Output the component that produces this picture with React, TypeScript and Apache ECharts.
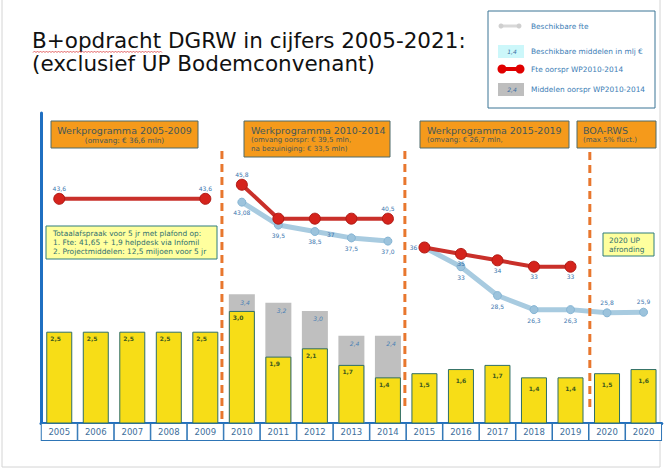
import React, { useEffect, useRef } from 'react';
import * as echarts from 'echarts';

// ---------- data ----------
const years = ['2005','2006','2007','2008','2009','2010','2011','2012','2013','2014','2015','2016','2017','2018','2019','2020','2020'];
const middelenOorspr = [null,null,null,null,null,3.4,3.2,3.0,2.4,2.4,null,null,null,null,null,null,null];
const middelenBeschikbaar = [2.5,2.5,2.5,2.5,2.5,3.0,1.9,2.1,1.7,1.4,1.5,1.6,1.7,1.4,1.4,1.5,1.6];
const fteOorspr = [43.6,43.6,43.6,43.6,43.6,45.8,40.5,40.5,40.5,40.5,36,35,34,33,33,null,null];
const fteBeschikbaar = [null,null,null,null,null,43.08,39.5,38.5,37.5,37.0,36,33,28.5,26.3,26.3,25.8,25.9];

const periodTitles = ['Werkprogramma 2005-2009','Werkprogramma 2010-2014','Werkprogramma 2015-2019','BOA-RWS'];
const noteLines = ['Totaalafspraak voor 5 jr met plafond op:','1. Fte: 41,65 + 1,9 helpdesk via Infomil','2. Projectmiddelen: 12,5 miljoen voor 5 jr'];

const FONT = '"DejaVu Sans", Verdana, sans-serif';
const GRID_LEFT = 41;
const GRID_TOP = 113;
const GRID_W = 622;
const GRID_H = 310;
const CAT_W = GRID_W / years.length;
const LABEL_BLUE = '#3A75AE';

const fmt = (v: number, minDec: number) => {
  const s = String(v);
  const d = s.includes('.') ? s.split('.')[1].length : 0;
  return v.toFixed(Math.max(d, minDec)).replace('.', ',');
};

function lineSegment(name: string, values: (number | null)[], range: [number, number], opts: any) {
  const [a, b] = range;
  const data = values.map((v, i) => {
    if (i < a || i > b || v == null) return '-';
    const item: any = { value: v };
    const pos = opts.labelPos[i];
    item.label = pos ? { show: true, position: pos } : { show: false };
    if (opts.hidden && opts.hidden.includes(i)) item.symbolSize = 0;
    return item;
  });
  return {
    type: 'line',
    name,
    yAxisIndex: 1,
    data,
    symbol: 'circle',
    symbolSize: opts.symbolSize,
    lineStyle: { color: opts.lineColor, width: opts.lineWidth },
    itemStyle: { color: opts.dotColor, borderColor: opts.dotBorder, borderWidth: 1 },
    label: {
      show: true,
      fontSize: 6,
      fontFamily: FONT,
      color: LABEL_BLUE,
      distance: opts.labelDistance,
      formatter: (p: any) => fmt(p.value, opts.minDec),
    },
    z: opts.z,
    silent: true,
  };
}

const txt = (text: string, x: number, y: number, size: number, fill: string, extra: any = {}) => ({
  type: 'text',
  x,
  y,
  z: 20,
  style: {
    text,
    fill,
    font: `${extra.weight || ''} ${extra.italic ? 'italic' : ''} ${size}px ${FONT}`,
    textAlign: extra.align || 'left',
    textVerticalAlign: 'middle',
  },
});

export default function App() {
  const ref = useRef<HTMLDivElement>(null);

  useEffect(() => {
    document.body.style.margin = '0';
    const chart = echarts.init(ref.current!, null, { renderer: 'svg' });

    const redOpts = { symbolSize: 11, lineColor: '#C9302A', lineWidth: 4, dotColor: '#D5231C', dotBorder: '#B01A14', z: 5, labelDistance: 1 };
    const blueOpts = { symbolSize: 8, lineColor: '#A8CBE0', lineWidth: 5, dotColor: '#9CC3DC', dotBorder: '#86B5D4', z: 4, labelDistance: 3 };

    const boundary = (i: number) => GRID_LEFT + i * CAT_W;

    // zigzag spell-check underline under the title
    const zig: number[][] = [];
    for (let x = 33, k = 0; x <= 163; x += 1.5, k++) zig.push([x, k % 2 ? 51 : 52.6]);

    const graphics: any[] = [
      { type: 'rect', z: 0, shape: { x: 2, y: -2, width: 658, height: 469 }, style: { fill: 'none', stroke: '#D4D4D4', lineWidth: 1 } },
      txt('B+opdracht DGRW in cijfers 2005-2021:', 32, 40, 21.5, '#111111'),
      txt('(exclusief UP Bodemconvenant)', 32, 63, 21.5, '#111111'),
      { type: 'polyline', z: 20, shape: { points: zig }, style: { stroke: '#E04848', lineWidth: 0.8, fill: 'none' } },

      // legend
      { type: 'rect', z: 15, shape: { x: 488, y: 11, width: 167, height: 97 }, style: { fill: '#ffffff', stroke: '#3A7595', lineWidth: 1 } },
      { type: 'line', z: 16, shape: { x1: 501, y1: 26, x2: 519, y2: 26 }, style: { stroke: '#D8D8D8', lineWidth: 3 } },
      { type: 'circle', z: 17, shape: { cx: 501, cy: 26, r: 2.5 }, style: { fill: '#CFCFCF' } },
      { type: 'circle', z: 17, shape: { cx: 519, cy: 26, r: 2.5 }, style: { fill: '#CFCFCF' } },
      txt('Beschikbare fte', 531, 26, 7.4, '#3B7DB5'),
      { type: 'rect', z: 16, shape: { x: 498, y: 45, width: 26, height: 13 }, style: { fill: '#CCF7FA' } },
      txt('1,4', 512, 51.5, 6, '#3B6FA5', { italic: true, align: 'center' }),
      txt('Beschikbare middelen in mlj €', 531, 51.5, 7.4, '#3B7DB5'),
      { type: 'line', z: 16, shape: { x1: 502, y1: 69, x2: 520, y2: 69 }, style: { stroke: '#E00000', lineWidth: 4 } },
      { type: 'circle', z: 17, shape: { cx: 502, cy: 69, r: 4.5 }, style: { fill: '#E00000' } },
      { type: 'circle', z: 17, shape: { cx: 520, cy: 69, r: 4.5 }, style: { fill: '#E00000' } },
      txt('Fte oorspr WP2010-2014', 531, 69, 7.4, '#3B7DB5'),
      { type: 'rect', z: 16, shape: { x: 498, y: 83, width: 26, height: 13 }, style: { fill: '#BEBEBE' } },
      txt('2,4', 512, 89.5, 6, '#3B6FA5', { italic: true, align: 'center' }),
      txt('Middelen oorspr WP2010-2014', 531, 89.5, 7.4, '#3B7DB5'),

      // dashed period separators
      { type: 'line', z: 6, shape: { x1: boundary(5) - 2, y1: 151, x2: boundary(5) - 2, y2: 421 }, style: { stroke: '#E8772E', lineWidth: 3, lineDash: [8, 5] } },
      { type: 'line', z: 6, shape: { x1: boundary(10) - 2, y1: 151, x2: boundary(10) - 2, y2: 410 }, style: { stroke: '#E8772E', lineWidth: 3, lineDash: [8, 5] } },
      { type: 'line', z: 6, shape: { x1: boundary(15), y1: 152, x2: boundary(15), y2: 410 }, style: { stroke: '#E8772E', lineWidth: 3, lineDash: [8, 5] } },

      // period boxes
      { type: 'rect', z: 10, shape: { x: 51, y: 121, width: 147, height: 27 }, style: { fill: '#F59A1B', stroke: '#4E6B6B', lineWidth: 1 } },
      txt(periodTitles[0], 124.5, 130, 9.5, '#44585A', { align: 'center' }),
      txt('(omvang: € 36,6 mln)', 124.5, 140, 7.3, '#44585A', { align: 'center' }),
      { type: 'rect', z: 10, shape: { x: 244, y: 121, width: 146, height: 36 }, style: { fill: '#F59A1B', stroke: '#4E6B6B', lineWidth: 1 } },
      txt(periodTitles[1], 251, 130, 9.5, '#44585A'),
      txt('(omvang oorspr: € 39,5 mln,', 251, 140, 7, '#44585A'),
      txt('na bezuiniging: € 33,5 mln)', 251, 149, 7, '#44585A'),
      { type: 'rect', z: 10, shape: { x: 420, y: 121, width: 149, height: 27 }, style: { fill: '#F59A1B', stroke: '#4E6B6B', lineWidth: 1 } },
      txt(periodTitles[2], 427, 130, 9.5, '#44585A'),
      txt('(omvang: € 26,7 mln,', 427, 140, 7, '#44585A'),
      { type: 'rect', z: 10, shape: { x: 577, y: 121, width: 79, height: 27 }, style: { fill: '#F59A1B', stroke: '#4E6B6B', lineWidth: 1 } },
      txt(periodTitles[3], 583, 130, 9.5, '#44585A'),
      txt('(max 5% fluct.)', 583, 140, 7, '#44585A'),

      // notes
      { type: 'rect', z: 10, shape: { x: 46, y: 226, width: 171, height: 33 }, style: { fill: '#FFFF9E', stroke: '#2E7D7D', lineWidth: 1 } },
      txt(noteLines[0], 53, 233, 7.4, '#2F6F6F'),
      txt(noteLines[1], 53, 242, 7.4, '#2F6F6F'),
      txt(noteLines[2], 53, 251, 7.4, '#2F6F6F'),
      { type: 'rect', z: 10, shape: { x: 603, y: 233, width: 51, height: 23 }, style: { fill: '#FFFF9E', stroke: '#2E7D7D', lineWidth: 1 } },
      txt('2020 UP', 609, 240, 7.4, '#2F6F6F'),
      txt('afronding', 609, 249, 7.4, '#2F6F6F'),

      txt('37', 327, 234, 6, LABEL_BLUE),
    ];

    const option: any = {
      animation: false,
      backgroundColor: '#ffffff',
      textStyle: { fontFamily: FONT },
      grid: { left: GRID_LEFT, top: GRID_TOP, width: GRID_W, height: GRID_H, containLabel: false },
      xAxis: {
        type: 'category',
        data: years,
        axisLine: { onZero: false, lineStyle: { color: '#1F6FC1', width: 3 } },
        axisTick: { show: false },
        axisLabel: {
          interval: 0,
          fontSize: 8.5,
          fontFamily: FONT,
          color: '#3D6E9B',
          backgroundColor: '#ffffff',
          borderColor: '#2E75B6',
          borderWidth: 1,
          padding: [3, 2, 3, 2],
          width: 31,
          align: 'center',
          lineHeight: 10,
          margin: 1,
        },
        splitLine: { show: false },
      },
      yAxis: [
        {
          type: 'value',
          min: 0.3,
          max: 7.77,
          axisLine: { show: true, lineStyle: { color: '#1F6FC1', width: 3 } },
          axisTick: { show: false },
          axisLabel: { show: false },
          splitLine: { show: false },
        },
        {
          type: 'value',
          min: 8.6,
          max: 57,
          show: false,
          splitLine: { show: false },
        },
      ],
      series: [
        {
          type: 'bar',
          name: 'Middelen oorspr WP2010-2014',
          data: middelenOorspr,
          barWidth: 26,
          itemStyle: { color: '#BFBFBF' },
          label: {
            show: true,
            position: 'insideTopRight',
            distance: 5,
            fontSize: 6,
            fontStyle: 'italic',
            fontFamily: FONT,
            color: '#4A7FB5',
            formatter: (p: any) => fmt(p.value, 1),
          },
          z: 1,
          silent: true,
        },
        {
          type: 'bar',
          name: 'Beschikbare middelen in mlj €',
          data: middelenBeschikbaar.map((v, i) =>
            i >= 10 ? { value: v, label: { position: 'insideTop', distance: 8 } } : { value: v }
          ),
          barWidth: 26,
          barGap: '-100%',
          itemStyle: { color: '#F7DD17', borderColor: '#2F6E66', borderWidth: 1 },
          label: {
            show: true,
            position: 'insideTopLeft',
            distance: 4,
            fontSize: 6,
            fontWeight: 'bold',
            fontFamily: FONT,
            color: '#3E5A1E',
            formatter: (p: any) => fmt(p.value, 1),
          },
          z: 2,
          silent: true,
        },
        lineSegment('Fte oorspr WP2010-2014', fteOorspr, [0, 4], { ...redOpts, minDec: 1, hidden: [1, 2, 3], labelPos: { 0: 'top', 4: 'top' } }),
        lineSegment('Fte oorspr WP2010-2014', fteOorspr, [5, 9], { ...redOpts, minDec: 1, labelPos: { 5: 'top', 9: 'top' } }),
        lineSegment('Fte oorspr WP2010-2014', fteOorspr, [10, 14], { ...redOpts, minDec: 0, labelPos: { 10: 'left', 11: 'bottom', 12: 'bottom', 13: 'bottom', 14: 'bottom' } }),
        lineSegment('Beschikbare fte', fteBeschikbaar, [5, 9], { ...blueOpts, minDec: 1, labelPos: { 5: 'bottom', 6: 'bottom', 7: 'bottom', 8: 'bottom', 9: 'bottom' } }),
        lineSegment('Beschikbare fte', fteBeschikbaar, [10, 16], { ...blueOpts, minDec: 0, labelPos: { 11: 'bottom', 12: 'bottom', 13: 'bottom', 14: 'bottom', 15: 'top', 16: 'top' } }),
      ],
      graphic: { elements: graphics },
    };

    chart.setOption(option);
    return () => chart.dispose();
  }, []);

  return <div ref={ref} style={{ width: 665, height: 470 }} />;
}
